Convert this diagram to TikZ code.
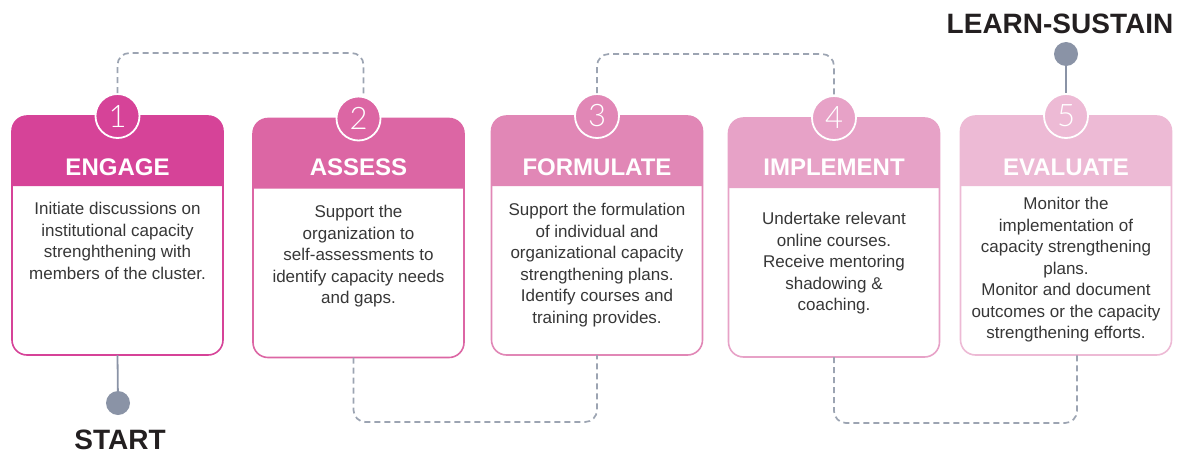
\documentclass[tikz,border=0pt]{standalone}
\usepackage{fontspec}
\setmainfont{Liberation Sans}
\newfontfamily\numfont{Lato Light}
\usepackage{xcolor}

\definecolor{engage}{RGB}{214,67,152}
\definecolor{assess}{RGB}{220,102,164}
\definecolor{formulate}{RGB}{225,135,182}
\definecolor{implement}{RGB}{231,162,199}
\definecolor{evaluate}{RGB}{237,186,213}
\definecolor{linkgray}{RGB}{156,164,178}
\definecolor{dotgray}{RGB}{138,147,166}
\definecolor{bodytext}{RGB}{55,55,55}
\definecolor{darktext}{RGB}{35,31,32}

\begin{document}
\begin{tikzpicture}[x=1pt, y=-1pt,
    card/.style={draw=#1, fill=white, line width=1.6pt, outer sep=0pt,
        rounded corners=15pt, minimum width=211pt, minimum height=239pt},
    stepnum/.style={circle, fill=#1, draw=white, line width=1.8pt, minimum size=44pt,
        inner sep=0pt, text=white, font=\numfont\fontsize{31}{31}\selectfont},
    cardtitle/.style={text=white, font=\fontsize{24}{24}\selectfont\bfseries},
    cardtext/.style={anchor=north, align=center, inner sep=0pt, text=bodytext,
        font=\fontsize{17}{21.5}\selectfont},
    link/.style={draw=linkgray, line width=1.7pt, dash pattern=on 6pt off 4pt, rounded corners=12pt},
    stem/.style={draw=dotgray, line width=1.8pt},
    milestone/.style={circle, fill=dotgray, minimum size=24pt, inner sep=0pt},
    marker/.style={text=darktext, font=\fontsize{28}{28}\selectfont\bfseries}
]

    \useasboundingbox (0,0) rectangle (1185,455);

    % Cards with coloured header and numbered badge
    \foreach \n/\x/\y/\c in {1/117.5/235.5/engage, 2/358.5/238/assess, 3/597/235.5/formulate,
                             4/834/237.5/implement, 5/1066/235.5/evaluate} {
        \node[card=\c] (card\n) at (\x,\y) {};
        \fill[\c] ([yshift=-70pt]card\n.north west) [rounded corners=15pt] -- (card\n.north west)
            -- (card\n.north east) [sharp corners] -- ([yshift=-70pt]card\n.north east) -- cycle;
        \node[stepnum=\c] (num\n) at (card\n.north) {\n};
    }

    % Titles
    \node[cardtitle] (title1) at (117.5,167) {ENGAGE};
    \node[cardtitle] (title2) at (358.5,167) {ASSESS};
    \node[cardtitle] (title3) at (597,167) {FORMULATE};
    \node[cardtitle] (title4) at (834,167) {IMPLEMENT};
    \node[cardtitle] (title5) at (1066,167) {EVALUATE};

    % Descriptions
    \node[cardtext] (text1) at (117.5,202) {Initiate discussions on\\institutional capacity\\strenghthening with\\members of the cluster.};
    \node[cardtext] (text2) at (358.5,205) {Support the\\organization to\\self-assessments to\\identify capacity needs\\and gaps.};
    \node[cardtext] (text3) at (597,203) {Support the formulation\\of individual and\\organizational capacity\\strengthening plans.\\Identify courses and\\training provides.};
    \node[cardtext] (text4) at (834,212) {Undertake relevant\\online courses.\\Receive mentoring\\shadowing \&\\coaching.};
    \node[cardtext] (text5) at (1066,197) {Monitor the\\implementation of\\capacity strengthening\\plans.\\Monitor and document\\outcomes or the capacity\\strengthening efforts.};

    % Dashed links between the steps
    \coordinate (railA) at (0,53);
    \coordinate (railB) at (0,422);
    \coordinate (railC) at (0,54);
    \coordinate (railD) at (0,423);
    \draw[link] (num1.north) -- (num1.north |- railA) -- ([xshift=5pt]num2.north |- railA) -- ([xshift=5pt]num2.north);
    \draw[link] ([xshift=-5pt]card2.south) -- ([xshift=-5pt]card2.south |- railB) -- (card3.south |- railB) -- (card3.south);
    \draw[link] (num3.north) -- (num3.north |- railC) -- (num4.north |- railC) -- (num4.north);
    \draw[link] (card4.south) -- (card4.south |- railD) -- ([xshift=11pt]card5.south |- railD) -- ([xshift=11pt]card5.south);

    % Start and end markers
    \node[milestone] (start) at (118,403) {};
    \node[marker] (startlabel) at (120,440) {START};
    \draw[stem] (card1.south) -- (start);

    \node[milestone] (finish) at (1066,54) {};
    \node[marker] (finishlabel) at (1060,24) {LEARN-SUSTAIN};
    \draw[stem] (finish) -- (num5.north);

\end{tikzpicture}
\end{document}
